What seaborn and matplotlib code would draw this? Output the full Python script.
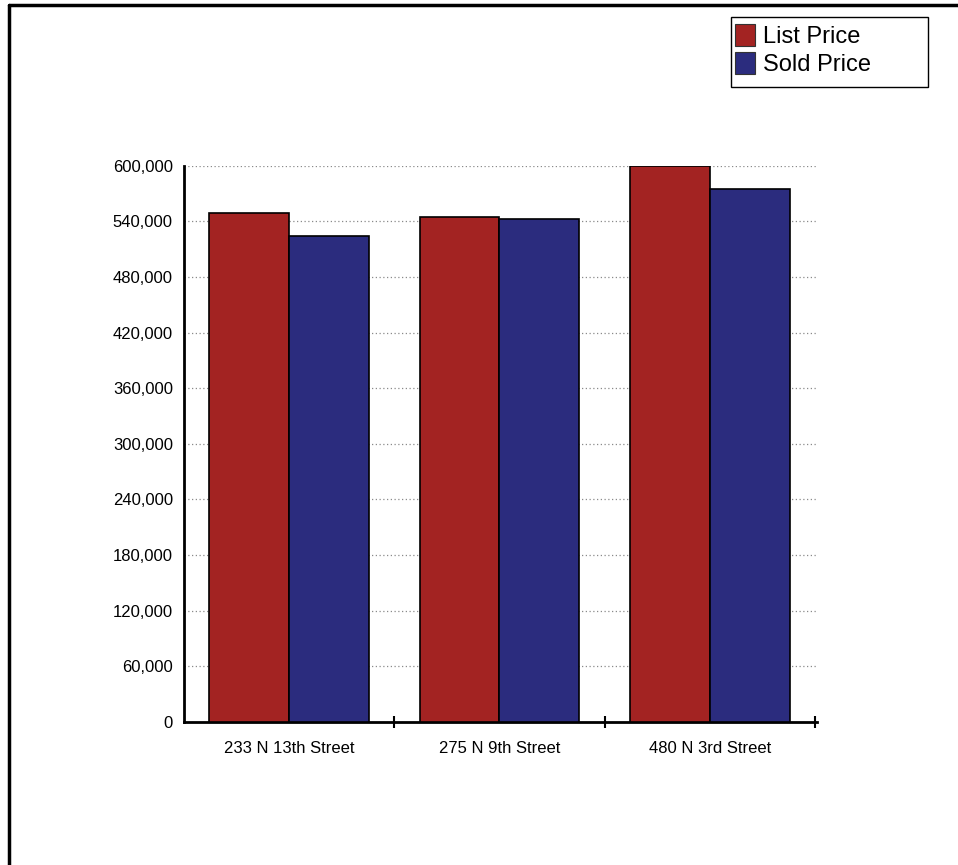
import pandas as pd
import numpy as np
import matplotlib.pyplot as plt
import seaborn as sns
from matplotlib.lines import Line2D
from matplotlib.patches import Rectangle
from matplotlib.ticker import FuncFormatter, FixedLocator

# Datos
direcciones = ["233 N 13th Street", "275 N 9th Street", "480 N 3rd Street"]
precio_lista = [549500, 545000, 600000]
precio_venta = [524000, 542800, 575200]
series = ["List Price", "Sold Price"]
colores = ["#A32322", "#2B2C7E"]

df = pd.DataFrame({
    "Direccion": direcciones * 2,
    "Serie": [series[0]] * 3 + [series[1]] * 3,
    "Precio": precio_lista + precio_venta,
})

sns.set_style("white")
plt.rcParams['font.family'] = ['Liberation Sans', 'DejaVu Sans']

fig = plt.figure(figsize=(9.58, 8.65), dpi=100)
ax = fig.add_axes([184 / 958, 1 - 722 / 865, (817 - 184) / 958, (722 - 165.7) / 865])

sns.barplot(data=df, x="Direccion", y="Precio", hue="Serie", palette=colores,
            width=0.76, edgecolor="black", linewidth=1.2, saturation=1, ax=ax, zorder=3)

ax.set_ylim(0, 600000)
ax.set_xlim(-0.5, 2.51)
ax.set_yticks(np.arange(0, 600001, 60000))
ax.yaxis.set_major_formatter(FuncFormatter(lambda v, p: f"{int(v):,}"))
ax.tick_params(axis="y", length=0, pad=8, labelsize=12, labelcolor="black")
ax.tick_params(axis="x", length=0, pad=14, labelsize=12, labelcolor="black")
ax.xaxis.set_minor_locator(FixedLocator([0.5, 1.5, 2.5]))
ax.tick_params(axis="x", which="minor", bottom=True, direction="inout", length=8,
               width=1.5, color="black")
ax.set_xlabel("")
ax.set_ylabel("")

ax.yaxis.grid(True, linestyle=(0, (1, 2)), color="#8a8a8a", linewidth=0.9, zorder=0)
ax.set_axisbelow(True)
for s in ["top", "right"]:
    ax.spines[s].set_visible(False)
for s in ["left", "bottom"]:
    ax.spines[s].set_color("black")
    ax.spines[s].set_linewidth(2)

# Leyenda con marco propio
ax.get_legend().remove()
fig.add_artist(Rectangle((731 / 958, 1 - 87 / 865), 197 / 958, 70 / 865, transform=fig.transFigure,
                         facecolor="white", edgecolor="black", linewidth=1))
handles = [plt.Rectangle((0, 0), 1, 1, facecolor=c, edgecolor="#333333", linewidth=0.8) for c in colores]
leg = fig.legend(handles, series, loc="upper left", bbox_to_anchor=(733 / 958, 1 - 22 / 865),
                 frameon=False, borderpad=0.1, handlelength=0.85, handleheight=1.05,
                 handletextpad=0.3, labelspacing=0.15, prop={"size": 17}, borderaxespad=0)
for t in leg.get_texts():
    t.set_color("black")

# Marco exterior (arriba e izquierda)
fig.add_artist(Line2D([9 / 958, 1], [1 - 5 / 865, 1 - 5 / 865], color="black", linewidth=2.5,
                      transform=fig.transFigure))
fig.add_artist(Line2D([9 / 958, 9 / 958], [0, 1 - 5 / 865], color="black", linewidth=2.5,
                      transform=fig.transFigure))

fig.savefig("out.png", dpi=100, facecolor="white")
